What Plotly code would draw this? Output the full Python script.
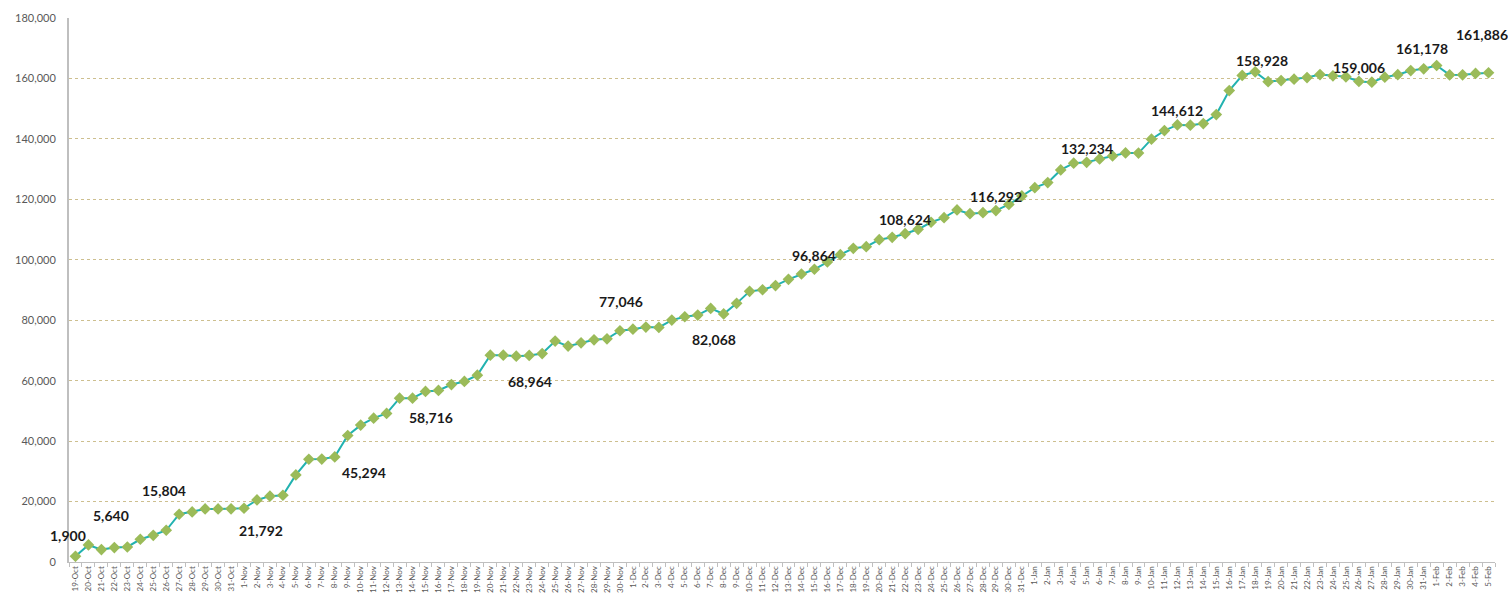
import plotly.graph_objects as go
import pandas as pd

# ---- data ----
oct_values = [1900, 5640, 4100, 4770, 4970, 7520, 8840, 10500, 15804, 16560, 17550, 17550, 17600]  # 19-31 Oct
nov_values = [17780, 20530, 21792, 22090, 28810, 34000, 34050, 34780, 41860, 45294,
              47590, 49150, 54220, 54200, 56430, 56760, 58716, 59740, 61830, 68450,
              68450, 68120, 68340, 68964, 73090, 71430, 72530, 73530, 73860, 76510]
dec_values = [77046, 77730, 77620, 80050, 81150, 81700, 83920, 82068, 85580, 89550,
              90090, 91450, 93530, 95290, 96864, 99260, 101680, 103800, 104330, 106650,
              107440, 108624, 110090, 112410, 113940, 116480, 115260, 115590, 116292, 118300,
              121120]
jan_values = [123870, 125530, 129730, 131950, 132234, 133370, 134370, 135360, 135300, 139900,
              142750, 144612, 144550, 145070, 148050, 156000, 161000, 162190, 158928, 159310,
              159770, 160300, 161290, 160860, 160530, 159006, 158770, 160430, 161250, 162620,
              163180]
feb_values = [164280, 161178, 161200, 161650, 161886]

dates = pd.date_range("2020-10-19", "2021-02-05", freq="D")
categories = [f"{d.day}-{d.strftime('%b')}" for d in dates]
values = oct_values + nov_values + dec_values + jan_values + feb_values

labelled = ["19-Oct", "20-Oct", "27-Oct", "3-Nov", "10-Nov", "17-Nov", "24-Nov", "1-Dec",
            "8-Dec", "15-Dec", "22-Dec", "29-Dec", "5-Jan", "12-Jan", "19-Jan", "26-Jan",
            "2-Feb", "5-Feb"]

# label offsets in pixels (dx right, dy down) - styling only
label_offsets = {
    "19-Oct": (-7, -21), "20-Oct": (23, -29), "27-Oct": (-15, -24), "3-Nov": (-9, 34),
    "10-Nov": (3, 47), "17-Nov": (-20, 33), "24-Nov": (-12, 28), "1-Dec": (-12, -28),
    "8-Dec": (-10, 26), "15-Dec": (0, -14), "22-Dec": (0, -14), "29-Dec": (0, -14),
    "5-Jan": (0, -14), "12-Jan": (0, -14), "19-Jan": (-6, -21), "26-Jan": (0, -14),
    "2-Feb": (-28, -26), "5-Feb": (-7, -38),
}

fig = go.Figure()
fig.add_trace(go.Scatter(
    x=categories, y=values, mode="lines+markers",
    line=dict(color="#22b2b0", width=2),
    marker=dict(symbol="diamond", size=9, color="#9bbb59", line=dict(width=0)),
    showlegend=False,
))

for cat in labelled:
    i = categories.index(cat)
    dx, dy = label_offsets[cat]
    fig.add_annotation(
        x=cat, y=values[i], text=f"{values[i]:,}", showarrow=False,
        xshift=dx, yshift=-dy, xanchor="center", yanchor="middle",
        font=dict(family="Lato", size=14, color="#1a1a1a", weight="bold"),
    )

fig.update_layout(
    width=1508, height=598,
    margin=dict(l=69, r=13, t=18, b=36),
    paper_bgcolor="white", plot_bgcolor="white",
    font=dict(family="Lato", color="#595959"),
    xaxis=dict(
        type="category", range=[-0.5, len(categories) - 0.5],
        tickangle=-90, tickfont=dict(size=8, color="#595959"),
        showgrid=False, showline=True, linecolor="#bfbfbf", linewidth=1,
        ticks="outside", tickson="boundaries", ticklen=4, tickcolor="#bfbfbf",
        automargin=False,
    ),
    yaxis=dict(
        range=[0, 180000], dtick=20000, tickformat=",d",
        tickfont=dict(size=11, color="#595959"),
        showgrid=True, gridcolor="#cdbf8f", griddash="dot", gridwidth=1,
        showline=True, linecolor="#bfbfbf", linewidth=2,
        ticks="", ticklabelstandoff=9, zeroline=False, automargin=False,
    ),
)

fig.write_html(
    "out.html",
    config={"displayModeBar": False},
    post_script="document.body.style.margin='0';document.body.style.overflow='hidden';",
)
